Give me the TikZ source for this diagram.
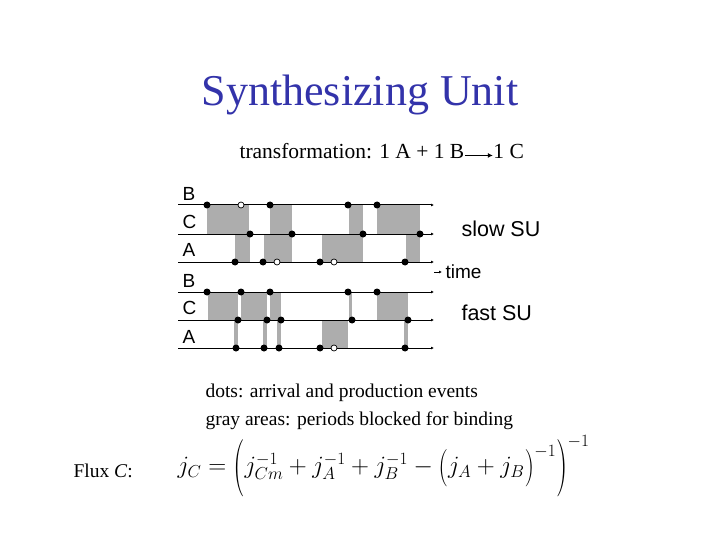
\documentclass[tikz,border=0pt]{standalone}
\usepackage{fontspec}
\usepackage{graphicx}
\setmainfont{Liberation Serif}
\newfontfamily\sfont{Liberation Sans}
\usetikzlibrary{arrows.meta}
\definecolor{titleblue}{RGB}{51,51,170}
\newcommand{\bigLp}{\mathopen{\raisebox{-0.35em}{\scalebox{1.3}[2.3]{$($}}}}
\newcommand{\bigRp}{\mathclose{\raisebox{-0.35em}{\scalebox{1.3}[2.3]{$)$}}}}
\newcommand{\midLp}{\mathopen{\raisebox{-0.15em}{\scalebox{1.1}[1.5]{$($}}}}
\newcommand{\midRp}{\mathclose{\raisebox{-0.15em}{\scalebox{1.1}[1.5]{$)$}}}}
\begin{document}
\begin{tikzpicture}[x=1pt,y=-1pt,
  tline/.style={line width=1pt,-{Latex[length=3pt,width=3pt]}},
  blk/.style={fill=black!32,draw=none},
  fdot/.style={circle,fill=black,inner sep=0pt,minimum size=7pt},
  odot/.style={circle,draw=black,fill=white,line width=0.7pt,inner sep=0pt,minimum size=6pt},
  lab/.style={font=\sfont\fontsize{19}{19}\selectfont,anchor=west}]
\useasboundingbox (0,0) rectangle (720,540);
\node[text=titleblue, font=\fontsize{44}{44}\selectfont] (title) at (360,95) {Synthesizing Unit};
\node[font=\fontsize{21.5}{22}\selectfont,anchor=west] (tr) at (236,151) {transformation: 1 A + 1 B\raisebox{0.3ex}{\tikz[baseline]\draw[line width=1.2pt,-{Latex[length=5pt,width=5pt]}] (0,0)--(28pt,0);}1 C};
% top gray
\foreach \a/\b in {207/249,270/292,349/363,377/420} \fill[blk] (\a,205) rectangle (\b,234);
\foreach \a/\b in {235/250,264/292,322/363,406/420} \fill[blk] (\a,234) rectangle (\b,262);
% bottom gray
\foreach \a/\b in {208/238,241/267,270/281,377/408,349/352} \fill[blk] (\a,292) rectangle (\b,320);
\foreach \a/\b in {234/238,263/267,277/281,322/348,404/408} \fill[blk] (\a,320) rectangle (\b,348);
% lines
\foreach \y/\n in {205/tb,234/tc,262/ta,292/bb,320/bc,348/ba}{
  \coordinate (\n s) at (178,\y); \coordinate (\n e) at (434,\y);
  \draw[tline] (\n s) -- (\n e);}
% labels
\foreach \y/\t in {194/B,222/C,250/A,281/B,308/C,337/A} \node[lab] at (179,\y) {\t};
\node[lab,font=\sfont\fontsize{21.5}{22}\selectfont] (slow) at (458,229) {slow SU};
\node[lab,font=\sfont\fontsize{21.5}{22}\selectfont] (fast) at (458,313) {fast SU};
\coordinate (ts) at (434,272); \coordinate (te) at (442,272);
\draw[line width=0.8pt,-{Latex[length=3pt,width=3pt]}] (ts) -- (te);
\node[lab,font=\sfont\fontsize{19}{19}\selectfont] (time) at (442,272) {time};
% dots top
\foreach \x in {207,270,348,377} \node[fdot] at (\x,205) {};
\node[odot] at (241,205) {};
\foreach \x in {250,292,363,420} \node[fdot] at (\x,234) {};
\foreach \x in {235,263,320,405} \node[fdot] at (\x,262) {};
\foreach \x in {277,334} \node[odot] at (\x,262) {};
% dots bottom
\foreach \x in {207,241,270,348,377} \node[fdot] at (\x,292) {};
\foreach \x in {238,267,281,352,408} \node[fdot] at (\x,320) {};
\foreach \x in {236,264,279,320,405} \node[fdot] at (\x,348) {};
\node[odot] at (334,348) {};
% texts
\node[font=\fontsize{19.5}{28}\selectfont,anchor=west,align=left] (dots) at (202,407) {dots: arrival and production events\\gray areas: periods blocked for binding};
\node[font=\fontsize{19.5}{20}\selectfont,anchor=west] (flux) at (70,471) {Flux \textit{C}:};
\node[font=\fontsize{25}{27}\selectfont,anchor=west] (eq) at (174,466) {$j_C=\bigLp j_{Cm}^{-1}+j_A^{-1}+j_B^{-1}-\midLp j_A+j_B\midRp^{-1}\bigRp^{-1}$};
\end{tikzpicture}
\end{document}
